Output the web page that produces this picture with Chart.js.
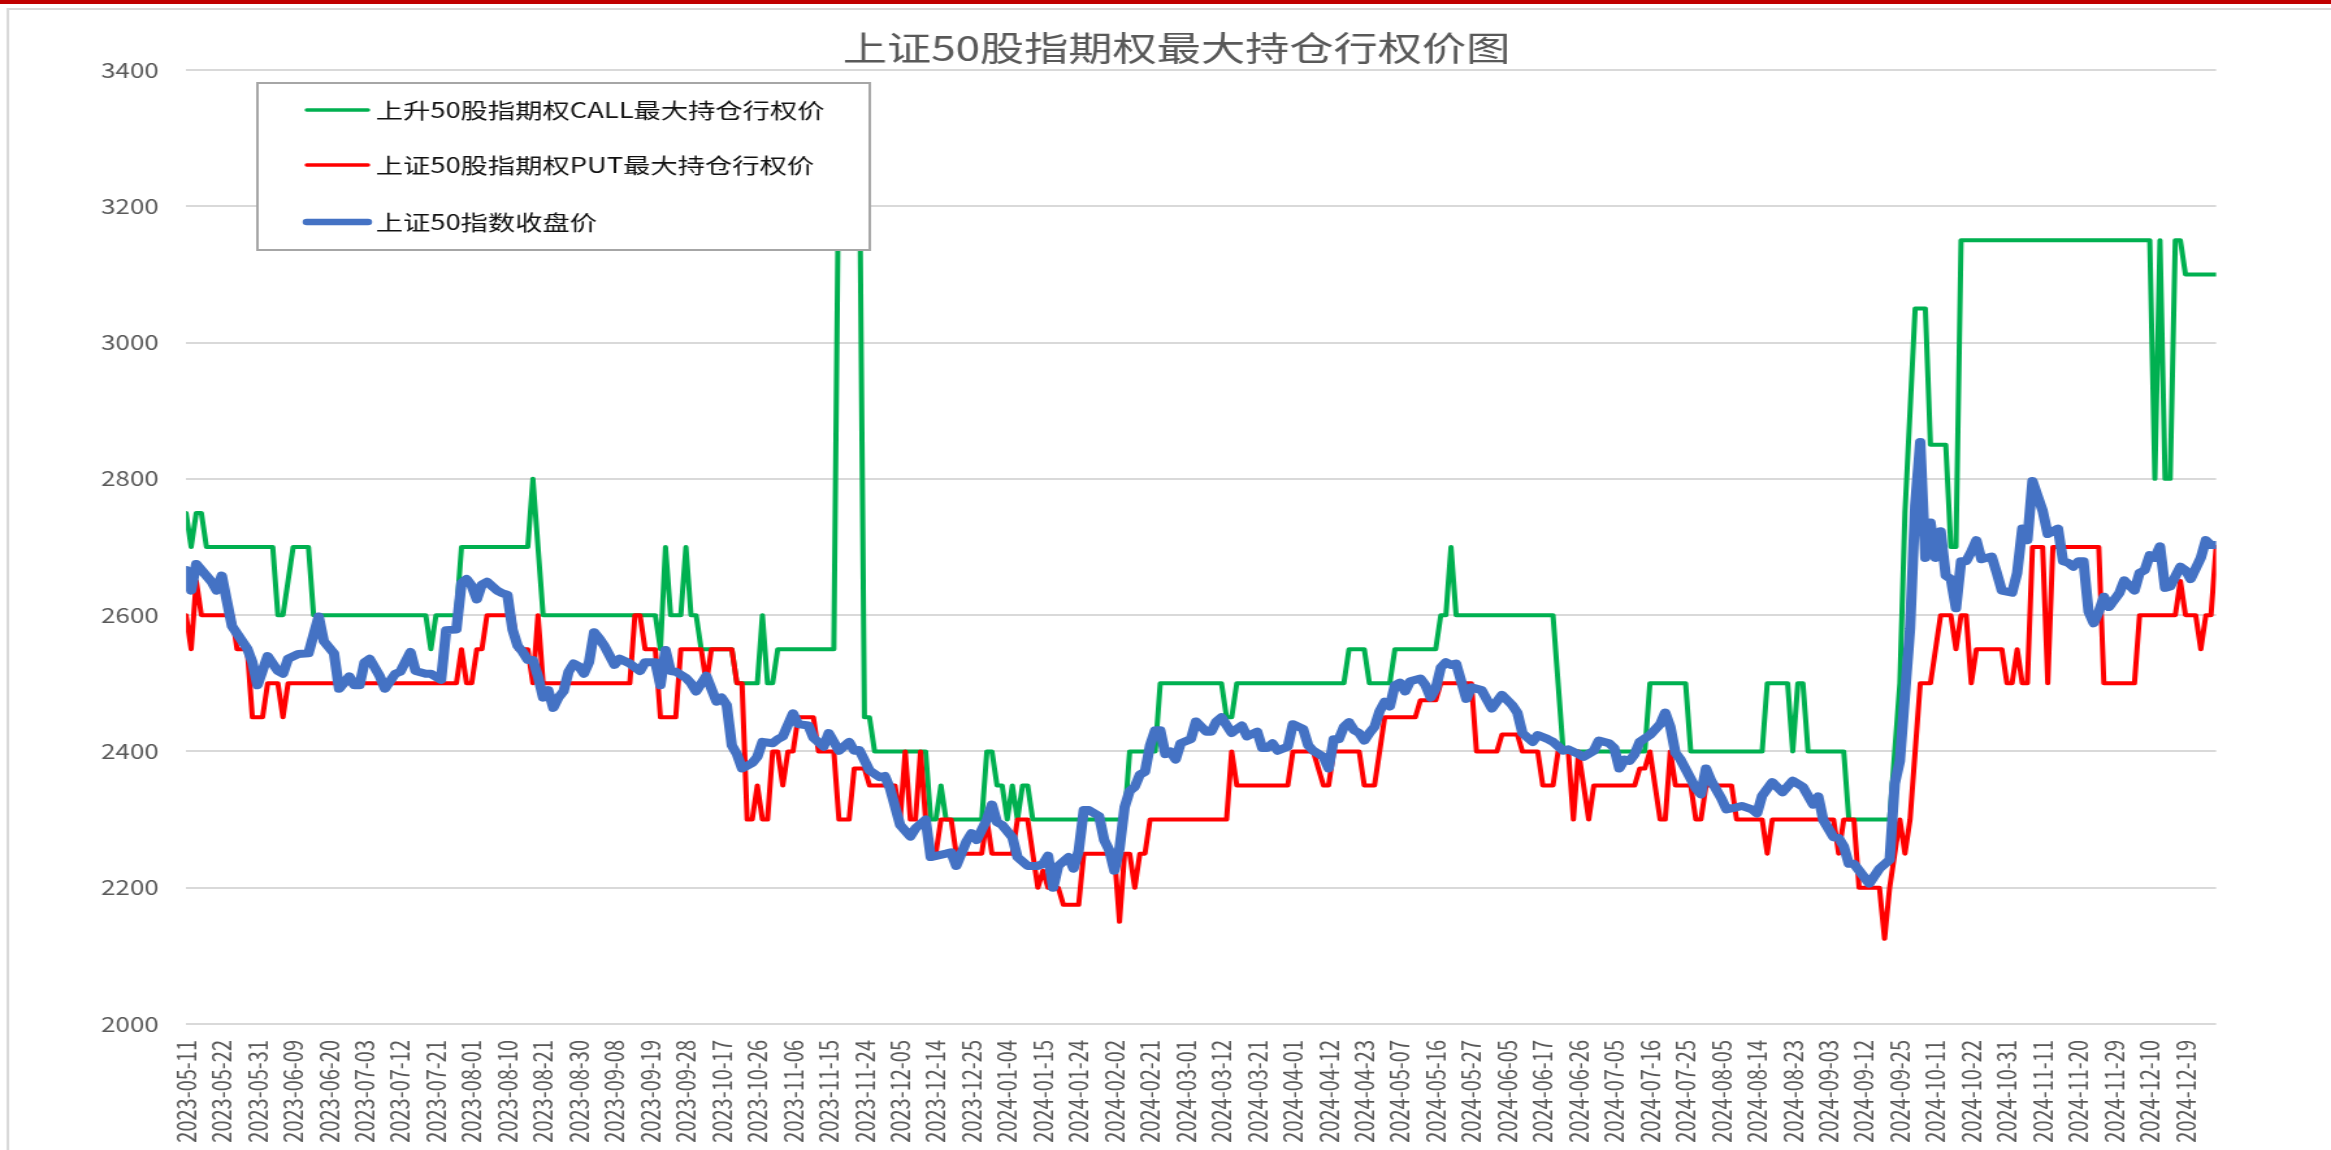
<!DOCTYPE html>
<html>
<head>
<meta charset="utf-8">
<title>上证50股指期权最大持仓行权价图</title>
<script src="https://cdn.jsdelivr.net/npm/chart.js@4.4.1/dist/chart.umd.min.js"></script>
<style>
  html, body { margin: 0; padding: 0; background: #fff; overflow: hidden; }
  /* the picture is drawn narrow and stretched sideways, like the original export */
  #c { display: block; width: 2331px !important; height: 1150px !important; }
</style>
</head>
<body>
<canvas id="c" width="1793" height="1150" style="width:2331px;height:1150px"></canvas>
<script>
const chartTitle = '上证50股指期权最大持仓行权价图';
const seriesNames = ['上升50股指期权CALL最大持仓行权价', '上证50股指期权PUT最大持仓行权价', '上证50指数收盘价'];

// one tick every 7 trading days
const tickStep = 7;
const lastIndex = 398;
const tickLabels = ['2023-05-11','2023-05-22','2023-05-31','2023-06-09','2023-06-20','2023-07-03','2023-07-12','2023-07-21',
  '2023-08-01','2023-08-10','2023-08-21','2023-08-30','2023-09-08','2023-09-19','2023-09-28','2023-10-17','2023-10-26',
  '2023-11-06','2023-11-15','2023-11-24','2023-12-05','2023-12-14','2023-12-25','2024-01-04','2024-01-15','2024-01-24',
  '2024-02-02','2024-02-21','2024-03-01','2024-03-12','2024-03-21','2024-04-01','2024-04-12','2024-04-23','2024-05-07',
  '2024-05-16','2024-05-27','2024-06-05','2024-06-17','2024-06-26','2024-07-05','2024-07-16','2024-07-25','2024-08-05',
  '2024-08-14','2024-08-23','2024-09-03','2024-09-12','2024-09-25','2024-10-11','2024-10-22','2024-10-31','2024-11-11',
  '2024-11-20','2024-11-29','2024-12-10','2024-12-19'];

// strike levels as [value, number of trading days]
const callRuns = [[2750,1],[2700,1],[2750,2],[2700,14],[2600,2],[2650,1],[2700,4],[2600,23],[2550,1],[2600,5],
  [2700,14],[2800,1],[2700,1],[2600,23],[2550,1],[2700,1],[2600,3],[2700,1],[2600,2],[2550,7],[2500,5],[2600,1],
  [2500,2],[2550,12],[3300,5],[2450,2],[2400,11],[2300,2],[2350,1],[2300,8],[2400,2],[2350,2],[2300,1],[2350,1],
  [2300,1],[2350,2],[2300,19],[2400,6],[2500,13],[2450,2],[2500,22],[2550,4],[2500,5],[2550,9],[2600,2],[2700,1],
  [2600,20],[2500,1],[2400,17],[2500,8],[2400,15],[2500,5],[2400,1],[2500,2],[2400,8],[2300,9],[2400,1],[2500,1],
  [2750,1],[2900,1],[3050,3],[2850,4],[2700,2],[3150,38],[2800,1],[3150,1],[2800,2],[3150,2],[3100,7]];

const putRuns = [[2600,1],[2550,1],[2650,1],[2600,7],[2550,3],[2450,3],[2500,3],[2450,1],[2500,34],[2550,1],
  [2500,2],[2550,2],[2600,6],[2550,3],[2500,1],[2600,1],[2500,18],[2600,2],[2550,3],[2450,4],[2550,5],[2500,1],
  [2550,5],[2500,2],[2300,2],[2350,1],[2300,2],[2400,2],[2350,1],[2400,2],[2450,4],[2400,4],[2300,3],[2375,3],
  [2350,6],[2300,1],[2400,1],[2300,2],[2400,1],[2300,1],[2250,2],[2300,3],[2250,6],[2300,1],[2250,5],[2300,3],
  [2250,1],[2200,1],[2225,1],[2200,3],[2175,4],[2250,7],[2150,1],[2250,2],[2200,1],[2250,2],[2300,16],[2400,1],
  [2350,11],[2400,5],[2375,1],[2350,2],[2400,6],[2350,3],[2400,1],[2450,7],[2475,4],[2500,7],[2400,5],[2425,4],
  [2400,4],[2350,3],[2400,3],[2300,1],[2400,1],[2350,1],[2300,1],[2350,9],[2375,2],[2400,1],[2350,1],[2300,2],
  [2400,1],[2350,4],[2300,2],[2350,6],[2300,6],[2250,1],[2300,13],[2250,1],[2300,3],[2200,5],[2125,1],[2200,1],
  [2250,1],[2300,1],[2250,1],[2300,1],[2400,1],[2500,3],[2550,1],[2600,3],[2550,1],[2600,2],[2500,1],[2550,6],
  [2500,2],[2550,1],[2500,2],[2700,3],[2500,1],[2700,10],[2500,7],[2600,8],[2650,1],[2600,3],[2550,1],[2600,2],
  [2700,1]];

// index close, read at the turning points of the line
const closeIdx = [0,1,2,5,6,7,9,11,12,13,14,16,18,19,20,22,24,26,27,29,30,32,33,34,35,36,38,39,41,42,44,45,47,48,
  50,51,53,54,55,56,57,58,59,61,62,63,64,65,66,67,68,69,70,71,72,73,74,75,76,77,78,79,80,81,82,84,85,87,89,90,92,
  93,94,95,96,98,99,100,102,104,105,106,107,108,109,111,112,113,115,116,117,119,120,122,123,125,126,128,130,131,
  132,134,136,137,138,140,142,143,145,146,149,150,151,153,154,155,157,158,159,160,162,163,165,166,167,168,169,170,
  171,173,174,175,176,177,179,180,181,182,183,184,185,186,187,188,189,190,191,192,193,194,195,197,198,200,201,202,
  203,205,206,207,208,210,211,212,213,214,216,217,219,220,221,223,224,225,226,227,228,229,230,231,232,233,234,235,
  236,237,238,239,240,242,243,244,245,246,247,248,249,251,252,254,256,258,260,261,262,264,265,267,268,270,271,273,
  274,276,277,279,280,281,282,283,284,285,287,289,290,291,292,293,295,296,297,298,299,301,302,304,305,307,308,309,
  311,313,315,317,319,320,321,323,324,325,326,327,330,332,334,335,336,337,338,339,340,341,342,343,344,345,346,347,
  348,349,350,351,352,354,355,356,358,359,360,361,362,363,364,365,367,368,369,370,371,372,373,374,375,376,377,379,
  380,382,383,384,385,386,387,388,389,391,392,393,395,396,397,398];
const closeVal = [2666,2636,2675,2649,2636,2658,2584,2562,2551,2531,2497,2540,2518,2514,2536,2543,2544,2598,2562,
  2544,2492,2510,2497,2497,2531,2536,2510,2492,2514,2517,2546,2518,2514,2514,2505,2578,2579,2647,2653,2643,2623,
  2645,2649,2636,2632,2630,2579,2555,2546,2534,2534,2510,2479,2490,2464,2479,2488,2517,2529,2525,2514,2531,2575,
  2566,2555,2527,2536,2529,2518,2531,2531,2497,2549,2518,2517,2508,2500,2488,2511,2473,2479,2468,2409,2396,2375,
  2383,2392,2414,2412,2418,2422,2456,2440,2438,2420,2407,2427,2401,2414,2401,2402,2372,2362,2364,2346,2292,2275,
  2287,2300,2245,2250,2252,2232,2268,2280,2270,2300,2322,2296,2292,2274,2245,2232,2232,2232,2235,2247,2200,2232,
  2245,2228,2254,2314,2314,2305,2270,2255,2225,2257,2318,2342,2348,2366,2370,2409,2431,2431,2396,2400,2388,2412,
  2418,2444,2429,2429,2444,2450,2427,2433,2438,2422,2429,2405,2405,2412,2401,2407,2440,2433,2409,2401,2392,2375,
  2418,2418,2436,2443,2431,2427,2416,2427,2436,2459,2473,2466,2497,2501,2488,2503,2507,2497,2479,2492,2523,2531,
  2527,2529,2477,2494,2490,2463,2483,2468,2457,2427,2414,2424,2418,2414,2401,2403,2396,2392,2401,2416,2412,2405,
  2375,2388,2386,2396,2414,2424,2440,2457,2436,2398,2388,2360,2346,2337,2375,2357,2331,2315,2318,2320,2315,2309,
  2335,2355,2340,2357,2348,2322,2334,2299,2274,2273,2261,2235,2235,2206,2228,2241,2353,2386,2483,2580,2760,2854,
  2684,2736,2684,2723,2658,2653,2610,2679,2679,2693,2710,2682,2686,2662,2636,2633,2662,2727,2710,2797,2775,2753,
  2719,2727,2679,2677,2671,2679,2679,2605,2588,2605,2627,2612,2632,2651,2636,2662,2666,2688,2684,2701,2640,2642,
  2671,2666,2653,2684,2710,2703,2703];

const FONT = "'Noto Sans CJK SC', 'Noto Sans', sans-serif";
const colors = ['#00b050', '#ff0000', '#4472c4'];
const widths = [4, 4, 8];

function expandRuns(runs) {
  const out = [];
  runs.forEach(([v, n]) => {
    for (let k = 0; k < n; k++) out.push({ x: out.length, y: v });
  });
  return out;
}

// frame, title and the boxed legend
const decor = {
  id: 'decor',
  beforeDraw(chart) {
    const ctx = chart.ctx;
    ctx.save();
    ctx.fillStyle = '#fff';
    ctx.fillRect(0, 0, chart.width, chart.height);
    ctx.fillStyle = '#c00000';
    ctx.fillRect(0, 0, chart.width, 4);
    ctx.strokeStyle = '#d9d9d9';
    ctx.lineWidth = 2;
    ctx.beginPath();
    ctx.moveTo(6, chart.height);
    ctx.lineTo(6, 9);
    ctx.lineTo(chart.width, 9);
    ctx.stroke();
    ctx.restore();
  },
  afterDatasetsDraw(chart) {
    const ctx = chart.ctx;
    ctx.save();
    ctx.fillStyle = '#fff';
    ctx.strokeStyle = '#a6a6a6';
    ctx.lineWidth = 2;
    ctx.fillRect(198, 83, 471, 167);
    ctx.strokeRect(198, 83, 471, 167);
    const rows = [110, 165, 222];
    chart.data.datasets.forEach((ds, i) => {
      ctx.strokeStyle = ds.borderColor;
      ctx.lineWidth = i === 2 ? 6.5 : 3.5;
      ctx.lineCap = 'round';
      ctx.beginPath();
      ctx.moveTo(236, rows[i]);
      ctx.lineTo(283, rows[i]);
      ctx.stroke();
      ctx.fillStyle = '#111';
      ctx.font = '21px ' + FONT;
      ctx.textAlign = 'left';
      ctx.textBaseline = 'middle';
      ctx.fillText(ds.label, 289, rows[i]);
    });
    ctx.restore();
  },
  afterDraw(chart) {
    const ctx = chart.ctx;
    ctx.save();
    ctx.fillStyle = '#595959';
    ctx.font = '34px ' + FONT;
    ctx.textAlign = 'center';
    ctx.textBaseline = 'middle';
    ctx.fillText(chartTitle, 905, 48);
    ctx.restore();
  }
};

const lineStyle = { pointRadius: 0, tension: 0, fill: false, borderJoinStyle: 'round', borderCapStyle: 'round' };

new Chart(document.getElementById('c'), {
  type: 'line',
  data: {
    datasets: [
      Object.assign({ label: seriesNames[0], data: expandRuns(callRuns), borderColor: colors[0], borderWidth: widths[0], order: 3 }, lineStyle),
      Object.assign({ label: seriesNames[1], data: expandRuns(putRuns), borderColor: colors[1], borderWidth: widths[1], order: 2 }, lineStyle),
      Object.assign({ label: seriesNames[2], data: closeIdx.map((x, i) => ({ x: x, y: closeVal[i] })), borderColor: colors[2], borderWidth: widths[2], order: 1 }, lineStyle)
    ]
  },
  options: {
    responsive: false,
    animation: false,
    devicePixelRatio: 1,
    layout: { padding: { left: 0, top: 70, right: 88.4, bottom: 0 } },
    plugins: { legend: { display: false }, title: { display: false }, tooltip: { enabled: false } },
    scales: {
      x: {
        type: 'linear',
        min: 0,
        max: lastIndex,
        afterBuildTicks: s => { s.ticks = tickLabels.map((_, i) => ({ value: i * tickStep })); },
        afterFit: s => { s.height = 126; },
        grid: { display: false, drawTicks: false },
        border: { display: false },
        ticks: {
          autoSkip: false, minRotation: 90, maxRotation: 90, padding: 16,
          color: '#595959', font: { family: FONT, size: 20 },
          callback: v => tickLabels[Math.round(v / tickStep)]
        }
      },
      y: {
        min: 2000,
        max: 3400,
        afterFit: s => { s.width = 143.1; },
        grid: { color: '#d9d9d9', lineWidth: 2, drawTicks: false },
        border: { display: false },
        ticks: { stepSize: 200, padding: 21, color: '#595959', font: { family: FONT, size: 20 }, callback: v => String(v) }
      }
    }
  },
  plugins: [decor]
});
</script>
</body>
</html>
